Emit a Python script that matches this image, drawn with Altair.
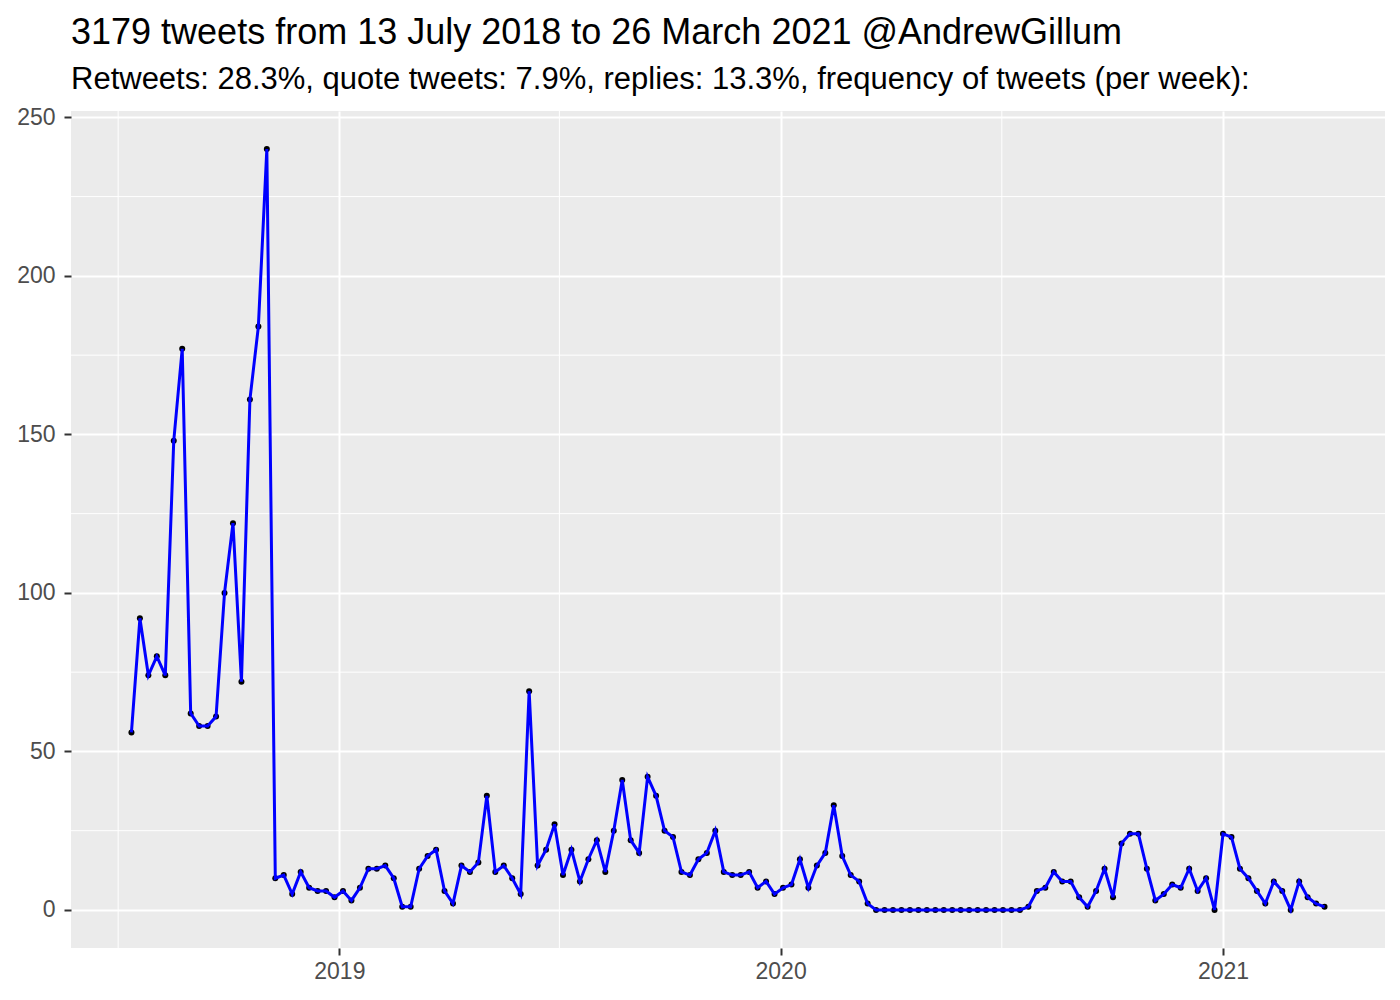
import altair as alt
import pandas as pd

# Weekly tweet counts, 13 July 2018 .. 26 March 2021
start_date = "2018-07-13"
counts_2018 = [56, 92, 74, 80, 74, 148, 177, 62, 58, 58, 61, 100, 122, 72, 161, 184, 240]
counts_mid = [10, 11, 5, 12, 7, 6, 6, 4, 6, 3,
              7, 13, 13, 14, 10, 1, 1, 13, 17, 19,
              6, 2, 14, 12, 15, 36, 12, 14, 10, 5,
              69, 14, 19, 27, 11, 19, 9, 16, 22, 12,
              25, 41, 22, 18, 42, 36, 25, 23, 12, 11,
              16, 18, 25, 12, 11, 11, 12, 7, 9, 5,
              7, 8, 16, 7, 14, 18, 33, 17, 11, 9,
              2]
counts_zero = [0] * 18
counts_late = [1, 6, 7, 12, 9, 9, 4, 1, 6, 13,
               4, 21, 24, 24, 13, 3, 5, 8, 7, 13,
               6, 10, 0, 24, 23, 13, 10, 6, 2, 9,
               6, 0, 9, 4, 2, 1]
counts = counts_2018 + counts_mid + counts_zero + counts_late

y_major = [0, 50, 100, 150, 200, 250]
y_minor = [25, 75, 125, 175, 225]
x_major_years = [2019, 2020, 2021]
x_minor_dates = ["2018-07-02", "2019-07-02", "2020-07-02"]

title_text = "3179 tweets from 13 July 2018 to 26 March 2021 @AndrewGillum"
subtitle_text = "Retweets: 28.3%, quote tweets: 7.9%, replies: 13.3%, frequency of tweets (per week):"

dates = pd.date_range(start_date, periods=len(counts), freq="7D").strftime("%Y-%m-%d")
df = pd.DataFrame({"date": dates, "n": counts})

FONT = "Liberation Sans"

x_scale = alt.Scale(
    type="utc",
    domain=[alt.DateTime(year=2018, month=5, date=24, utc=True),
            alt.DateTime(year=2021, month=5, date=15, utc=True)],
)
y_scale = alt.Scale(domain=[-12, 252], nice=False, zero=False)

x_axis = alt.Axis(
    values=[alt.DateTime(year=yy, month=1, date=1, utc=True) for yy in x_major_years],
    format="%Y", formatType="time", title=None,
    grid=True, gridColor="white", gridWidth=2,
    domain=False, ticks=True, tickColor="#333333", tickWidth=2, tickSize=7,
    labelFont=FONT, labelFontSize=23, labelColor="#4D4D4D", labelPadding=5,
)
y_axis = alt.Axis(
    values=y_major, title=None,
    grid=True, gridColor="white", gridWidth=2,
    domain=False, ticks=True, tickColor="#333333", tickWidth=2, tickSize=7,
    labelFont=FONT, labelFontSize=23, labelColor="#4D4D4D", labelPadding=9,
)

minor_y = alt.Chart(pd.DataFrame({"v": y_minor})).mark_rule(
    color="white", strokeWidth=1
).encode(y=alt.Y("v:Q", scale=y_scale, axis=y_axis))

minor_x = alt.Chart(pd.DataFrame({"d": x_minor_dates})).mark_rule(
    color="white", strokeWidth=1
).encode(x=alt.X("d:T", scale=x_scale, axis=x_axis))

points = alt.Chart(df).mark_circle(color="black", size=36, opacity=1).encode(
    x=alt.X("date:T", scale=x_scale, axis=x_axis),
    y=alt.Y("n:Q", scale=y_scale, axis=y_axis),
)
line = alt.Chart(df).mark_line(color="#0000FF", strokeWidth=3).encode(
    x=alt.X("date:T", scale=x_scale, axis=x_axis),
    y=alt.Y("n:Q", scale=y_scale, axis=y_axis),
)

chart = alt.layer(minor_y, minor_x, points, line).properties(
    width=1314,
    height=837,
    background="white",
    title=alt.TitleParams(
        text=title_text,
        subtitle=subtitle_text,
        anchor="start",
        frame="group",
        font=FONT,
        fontSize=36,
        fontWeight="normal",
        color="black",
        subtitleFont=FONT,
        subtitleFontSize=31,
        subtitleColor="black",
        subtitlePadding=13,
        offset=10,
    ),
    autosize=alt.AutoSizeParams(type="none"),
    padding={"left": 63, "top": 103, "right": 7, "bottom": 44},
).configure_view(
    fill="#EBEBEB", stroke=None
)

chart.save("out.html", embed_options={"renderer": "svg", "actions": False})
